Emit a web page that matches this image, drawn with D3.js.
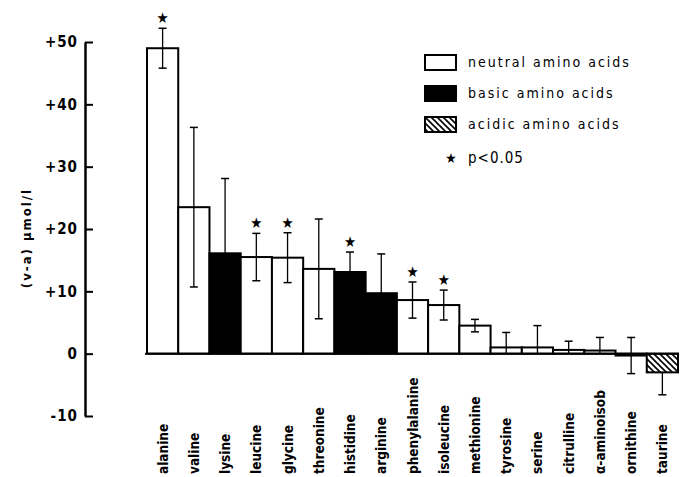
<!DOCTYPE html>
<html>
<head>
<meta charset="utf-8">
<script src="https://cdn.jsdelivr.net/npm/d3@7"></script>
<style>
  body { margin: 0; background: #fff; }
  svg text { font-family: "DejaVu Sans Condensed", "DejaVu Sans", sans-serif; fill: #000; }
</style>
</head>
<body>
<script>
// amino acids, left to right
var names = ["alanine", "valine", "lysine", "leucine", "glycine", "threonine", "histidine",
  "arginine", "phenylalanine", "isoleucine", "methionine", "tyrosine", "serine",
  "citrulline", "α-aminoisob", "ornithine", "taurine"];
// n = neutral, b = basic, a = acidic
var kinds = ["n", "n", "b", "n", "n", "n", "b", "b", "n", "n", "n", "n", "n", "n", "n", "b", "a"];
var values = [49.0, 23.5, 16.1, 15.5, 15.4, 13.6, 13.1, 9.7, 8.6, 7.8, 4.5, 1.0, 1.0, 0.6, 0.5, -0.3, -3.0];
var errors = [3.2, 12.8, 12.0, 3.8, 4.0, 8.0, 3.2, 6.3, 2.9, 2.4, 1.0, 2.4, 3.5, 1.4, 2.1, 2.9, 3.6];
var signif = [1, 0, 0, 1, 1, 0, 1, 0, 1, 1, 0, 0, 0, 0, 0, 0, 0];
var yTicks = [-10, 0, 10, 20, 30, 40, 50];

var legendItems = [
  {kind: "n", label: "neutral amino acids"},
  {kind: "b", label: "basic amino acids"},
  {kind: "a", label: "acidic amino acids"}
];

var data = names.map(function(d, i) {
  var hi = values[i] + errors[i];
  var lo = values[i] - errors[i];
  // error bars only drawn outside the zero line, hatched bar only downwards
  if (values[i] > 0 && lo < 0) lo = 0;
  if (kinds[i] == "a") hi = values[i];
  return {name: d, kind: kinds[i], value: values[i], hi: hi, lo: lo,
    loCap: lo != 0, star: signif[i]};
});

var svg = d3.select("body").append("svg").attr("width", 681).attr("height", 477);

var defs = svg.append("defs");
var pat = defs.append("pattern")
  .attr("id", "hatch")
  .attr("patternUnits", "userSpaceOnUse")
  .attr("width", 6).attr("height", 6);
pat.append("rect").attr("width", 6).attr("height", 6).attr("fill", "#fff");
pat.append("path")
  .attr("d", "M-1,-1 L7,7 M-4,2 L2,8 M4,-2 L8,2")
  .attr("stroke", "#000").attr("stroke-width", 1.6);

function fillFor(k) {
  if (k == "b") return "#000";
  if (k == "a") return "url(#hatch)";
  return "#fff";
}

var x = d3.scaleBand().domain(names).range([147, 678]).padding(0);
var y = d3.scaleLinear().domain([-10, 50]).range([416, 42]);

// y axis
var yAxis = d3.axisLeft(y)
  .tickValues(yTicks)
  .tickSizeInner(-8)
  .tickSizeOuter(0)
  .tickPadding(7)
  .tickFormat(function(d) { return d > 0 ? "+" + d : d; });

var ga = svg.append("g").attr("transform", "translate(85,0)").call(yAxis);
ga.select(".domain").attr("stroke", "#000").attr("stroke-width", 2.5);
ga.selectAll(".tick line").attr("stroke", "#000").attr("stroke-width", 2);
ga.selectAll(".tick text")
  .style("font-size", "15px")
  .style("font-weight", "bold")
  .style("letter-spacing", "1px")
  .attr("font-family", null);

svg.append("text")
  .attr("transform", "translate(31,238) rotate(-90)")
  .attr("text-anchor", "middle")
  .style("font-size", "13px")
  .style("font-weight", "bold")
  .style("letter-spacing", "2px")
  .text("(v-a) µmol/l");

// bars
svg.selectAll("rect.bar")
  .data(data)
  .enter()
  .append("rect")
  .attr("class", "bar")
  .attr("x", function(d) { return x(d.name); })
  .attr("width", x.bandwidth())
  .attr("y", function(d) { return y(Math.max(0, d.value)); })
  .attr("height", function(d) { return Math.abs(y(d.value) - y(0)); })
  .attr("fill", function(d) { return fillFor(d.kind); })
  .attr("stroke", "#000")
  .attr("stroke-width", 2);

// zero line
svg.append("line")
  .attr("x1", 145).attr("x2", 679)
  .attr("y1", y(0)).attr("y2", y(0))
  .attr("stroke", "#000").attr("stroke-width", 2);

// error bars
var eb = svg.selectAll("g.err")
  .data(data)
  .enter()
  .append("g")
  .attr("class", "err")
  .attr("transform", function(d) { return "translate(" + (x(d.name) + x.bandwidth() / 2) + ",0)"; });

eb.append("line")
  .attr("y1", function(d) { return y(d.hi); })
  .attr("y2", function(d) { return y(d.lo); })
  .attr("stroke", "#000").attr("stroke-width", 1.3);
eb.filter(function(d) { return d.kind != "a"; })
  .append("line")
  .attr("x1", -4).attr("x2", 4)
  .attr("y1", function(d) { return y(d.hi); })
  .attr("y2", function(d) { return y(d.hi); })
  .attr("stroke", "#000").attr("stroke-width", 1.5);
eb.filter(function(d) { return d.loCap; })
  .append("line")
  .attr("x1", -4).attr("x2", 4)
  .attr("y1", function(d) { return y(d.lo); })
  .attr("y2", function(d) { return y(d.lo); })
  .attr("stroke", "#000").attr("stroke-width", 1.5);

// significance stars
eb.filter(function(d) { return d.star; })
  .append("text")
  .attr("y", function(d) { return y(d.hi) - 5; })
  .attr("text-anchor", "middle")
  .style("font-size", "15px")
  .text("★");

// category labels
svg.selectAll("text.cat")
  .data(data)
  .enter()
  .append("text")
  .attr("class", "cat")
  .attr("transform", function(d) { return "translate(" + (x(d.name) + x.bandwidth() / 2 + 5) + ",474) rotate(-90)"; })
  .attr("text-anchor", "start")
  .style("font-size", "13.5px")
  .style("font-weight", "bold")
  .text(function(d) { return d.name; });

// legend
var lg = svg.selectAll("g.leg")
  .data(legendItems)
  .enter()
  .append("g")
  .attr("class", "leg")
  .attr("transform", function(d, i) { return "translate(425," + (55 + i * 31) + ")"; });

lg.append("rect")
  .attr("width", 31).attr("height", 15)
  .attr("fill", function(d) { return fillFor(d.kind); })
  .attr("stroke", "#000").attr("stroke-width", 2);
lg.append("text")
  .attr("x", 43).attr("y", 12)
  .style("font-size", "14px")
  .style("letter-spacing", "2px")
  .text(function(d) { return d.label; });

svg.append("text")
  .attr("x", 451).attr("y", 163)
  .attr("text-anchor", "middle")
  .style("font-size", "14px")
  .text("★");
svg.append("text")
  .attr("x", 468).attr("y", 163)
  .style("font-size", "15px")
  .style("letter-spacing", "1px")
  .text("p<0.05");
</script>
</body>
</html>
